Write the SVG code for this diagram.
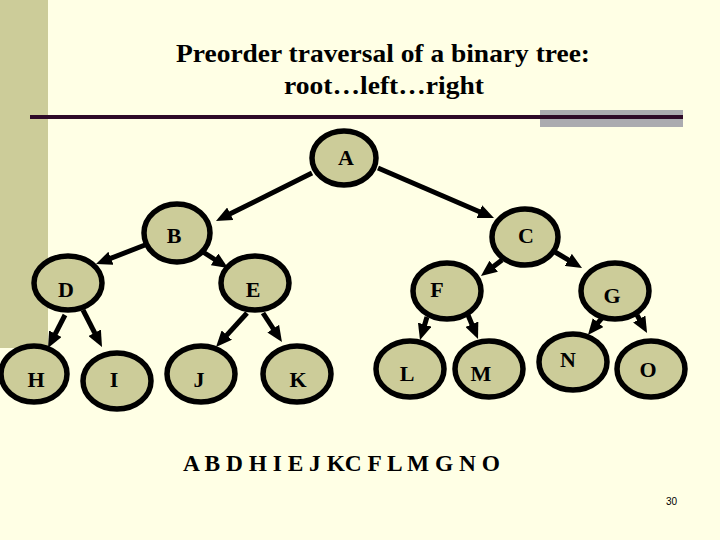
<svg xmlns="http://www.w3.org/2000/svg" width="720" height="540" viewBox="0 0 720 540">
<defs>
<style>
.node ellipse{fill:#CCCC99;stroke:#000;stroke-width:5.5}
.node text{font-family:"Liberation Serif","Times New Roman",serif;font-weight:bold;font-size:22px;text-anchor:middle;fill:#000}
.edge{stroke:#000;stroke-width:5;fill:none;marker-end:url(#arr)}
.title{font-family:"Liberation Serif","Times New Roman",serif;font-weight:bold;font-size:25px;text-anchor:middle;fill:#000}
</style>
<marker id="arr" markerUnits="userSpaceOnUse" viewBox="0 0 16 14" markerWidth="16" markerHeight="14" refX="4" refY="7" orient="auto">
<path d="M0,0 L16,7 L0,14 z" fill="#000"/>
</marker>
</defs>
<rect x="0" y="0" width="720" height="540" fill="#FFFFE5"/>
<rect x="0" y="0" width="48" height="348" fill="#CCCC99"/>
<rect x="540" y="110" width="143" height="17" fill="#ABABB0"/>
<line x1="30" y1="117" x2="683" y2="117" stroke="#2E0A28" stroke-width="4"/>
<text class="title" x="383" y="62" textLength="414" lengthAdjust="spacingAndGlyphs">Preorder traversal of a binary tree:</text>
<text class="title" x="384" y="94" textLength="200" lengthAdjust="spacingAndGlyphs">root…left…right</text>

<g id="nodes">
<g id="node-A" class="node"><ellipse cx="344" cy="158" rx="32" ry="27"/><text x="346" y="165">A</text></g>
<g id="node-B" class="node"><ellipse cx="177" cy="233" rx="33" ry="29"/><text x="174" y="243">B</text></g>
<g id="node-C" class="node"><ellipse cx="525" cy="237" rx="33" ry="28"/><text x="526" y="243">C</text></g>
<g id="node-D" class="node"><ellipse cx="68" cy="283" rx="34" ry="27"/><text x="66" y="297">D</text></g>
<g id="node-E" class="node"><ellipse cx="255" cy="283" rx="34" ry="27"/><text x="253" y="297">E</text></g>
<g id="node-F" class="node"><ellipse cx="447" cy="291" rx="34" ry="28"/><text x="437" y="297">F</text></g>
<g id="node-G" class="node"><ellipse cx="615" cy="291" rx="34" ry="28"/><text x="612" y="303">G</text></g>
<g id="node-H" class="node"><ellipse cx="34" cy="374" rx="33" ry="28"/><text x="36" y="387">H</text></g>
<g id="node-I" class="node"><ellipse cx="117" cy="381" rx="34" ry="28"/><text x="114" y="387">I</text></g>
<g id="node-J" class="node"><ellipse cx="201" cy="374" rx="34" ry="28"/><text x="199" y="387">J</text></g>
<g id="node-K" class="node"><ellipse cx="297" cy="374" rx="34" ry="28"/><text x="298" y="387">K</text></g>
<g id="node-L" class="node"><ellipse cx="410" cy="369" rx="34" ry="28"/><text x="407" y="381">L</text></g>
<g id="node-M" class="node"><ellipse cx="489" cy="369" rx="34" ry="28"/><text x="481" y="381">M</text></g>
<g id="node-N" class="node"><ellipse cx="573" cy="362" rx="34" ry="28"/><text x="568" y="367">N</text></g>
<g id="node-O" class="node"><ellipse cx="651" cy="369" rx="34" ry="28"/><text x="648" y="377">O</text></g>
</g>

<g id="connectors">
<line class="edge" x1="312" y1="173" x2="226.7" y2="215.6"/>
<line class="edge" x1="378" y1="168" x2="483" y2="213.2"/>
<line class="edge" x1="145" y1="245" x2="107.2" y2="259.7"/>
<line class="edge" x1="203" y1="252" x2="217.9" y2="261.5"/>
<line class="edge" x1="502" y1="260" x2="490.5" y2="268.7"/>
<line class="edge" x1="555" y1="252" x2="571.7" y2="261.9"/>
<line class="edge" x1="65" y1="315" x2="53.5" y2="337.3"/>
<line class="edge" x1="83" y1="310" x2="96.5" y2="336.3"/>
<line class="edge" x1="247" y1="313" x2="224.1" y2="338.1"/>
<line class="edge" x1="263" y1="313" x2="275.4" y2="332"/>
<line class="edge" x1="427" y1="317" x2="423.5" y2="328.5"/>
<line class="edge" x1="468" y1="315" x2="473.4" y2="327.9"/>
<line class="edge" x1="602" y1="318" x2="595.6" y2="325.7"/>
<line class="edge" x1="637" y1="315" x2="641.2" y2="322.5"/>
</g>

<text x="183" y="471" font-family="Liberation Serif, Times New Roman, serif" font-weight="bold" font-size="23" textLength="317" lengthAdjust="spacingAndGlyphs">A B D H I E J KC F L M G N O</text>
<text x="666" y="505" font-family="Liberation Sans, Arial, sans-serif" font-size="10">30</text>
</svg>
